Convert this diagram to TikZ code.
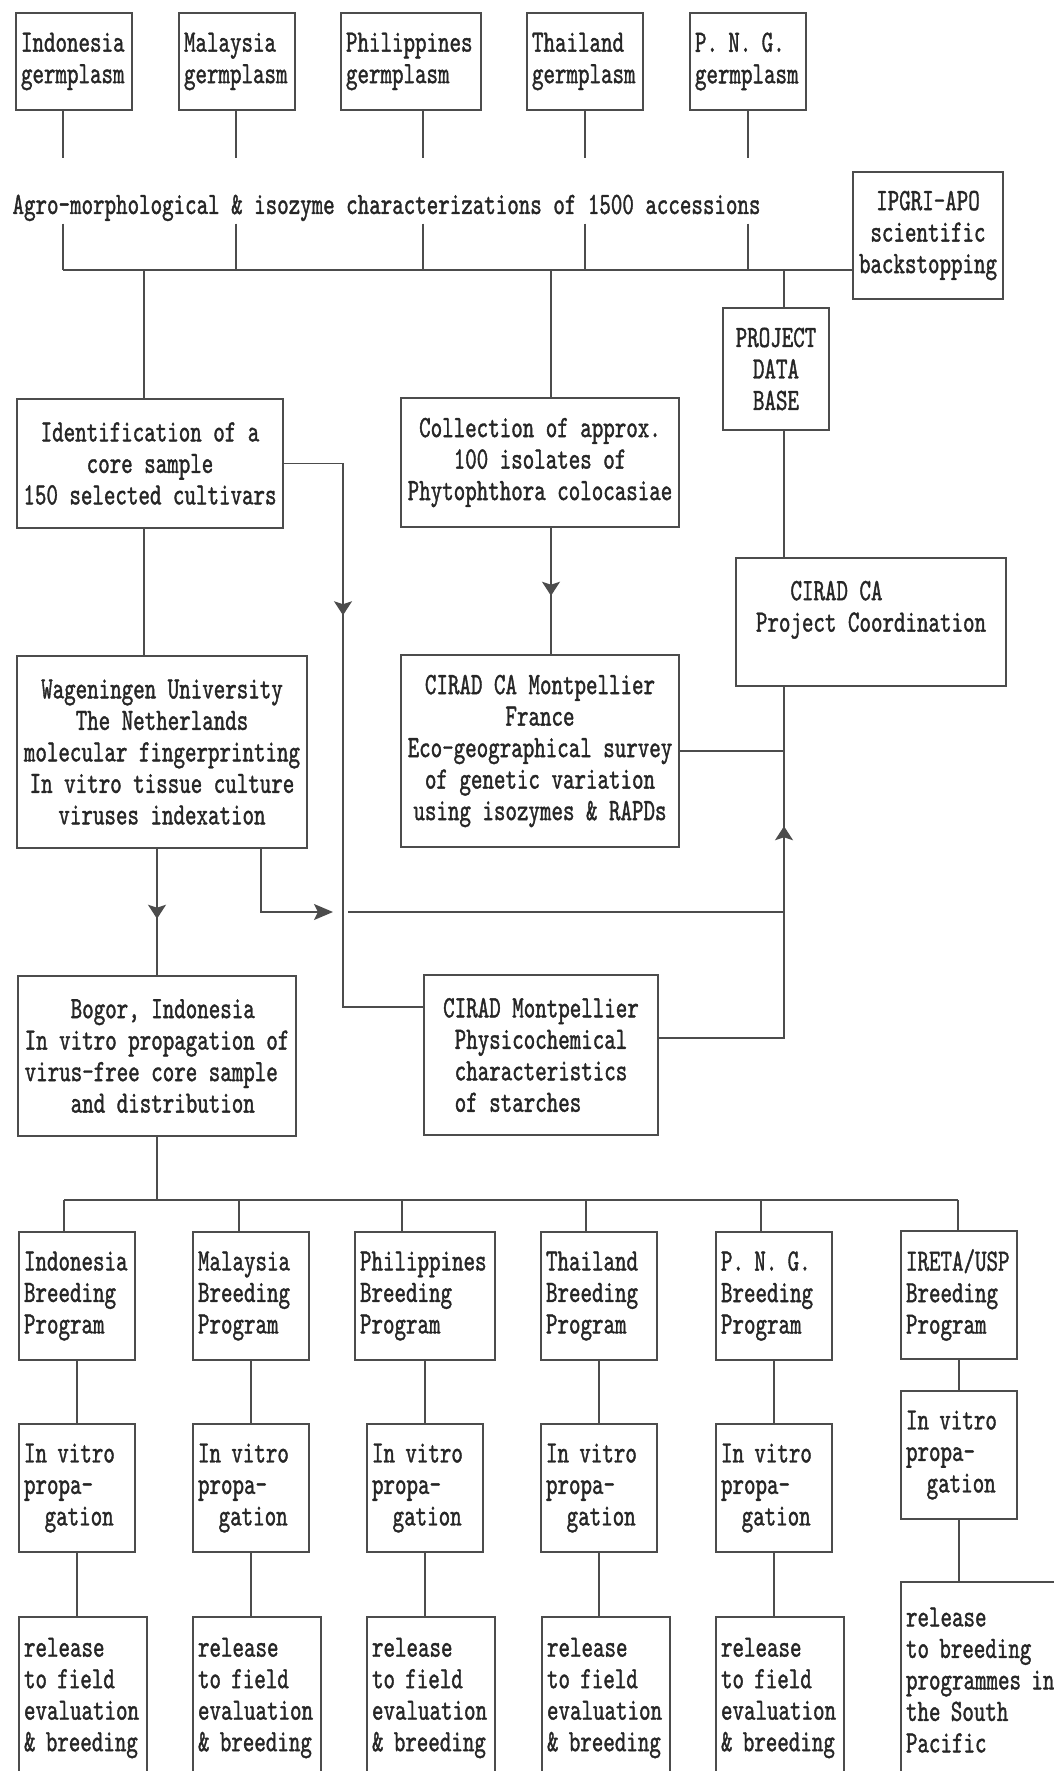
\documentclass[tikz,border=0pt]{standalone}
\usepackage{fontspec}
\newfontfamily\tw[FakeStretch=0.707,FakeBold=1.2]{lmmono10-regular.otf}
\usetikzlibrary{arrows.meta,decorations.markings}

\begin{document}
\begin{tikzpicture}[x=1pt,y=-1pt,line width=1.5pt,color=black!70,
  every node/.style={font=\tw\fontsize{31}{31.5}\selectfont,text=black!85},
  cbox/.style={draw,align=center,inner sep=0pt},
  lbox/.style={draw,align=left,inner xsep=5pt,inner ysep=0pt},
  tipat/.style={postaction={decorate},decoration={markings,
    mark=at position #1 with {\arrow{Stealth[length=14pt,width=18pt,inset=3pt]}}}}]
\useasboundingbox (0,0) rectangle (1054,1771);
\clip (0,0) rectangle (1054,1771);

% germplasm
\node[lbox,text width=106pt,minimum height=97pt] (gIndo) at (74,61.5) {Indonesia\\germplasm};
\node[lbox,text width=106pt,minimum height=97pt] (gMala) at (237,61.5) {Malaysia\\germplasm};
\node[lbox,text width=130pt,minimum height=97pt] (gPhil) at (411,61.5) {Philippines\\germplasm};
\node[lbox,text width=106pt,minimum height=97pt] (gThai) at (585,61.5) {Thailand\\germplasm};
\node[lbox,text width=106pt,minimum height=97pt] (gPng) at (748,61.5) {P. N. G.\\germplasm};

\node[inner xsep=0pt,inner ysep=3pt,text height=20pt,text depth=6pt] (agro) at (386.5,207)
  {Agro-morphological \& isozyme characterizations of 1500 accessions};
\node[cbox,minimum width=150pt,minimum height=127pt] (ipgri) at (928,235.5) {IPGRI-APO\\scientific\\backstopping};
\node[cbox,minimum width=106pt,minimum height=122pt] (dbase) at (776,369) {PROJECT\\DATA\\BASE};

\node[cbox,minimum width=266pt,minimum height=129pt] (ident) at (150,463.5)
  {Identification of a\\core sample\\150 selected cultivars};
\node[cbox,minimum width=278pt,minimum height=129pt] (coll) at (540,462.5)
  {Collection of approx.\\100 isolates of\\Phytophthora colocasiae};
\node[cbox,align=left,minimum width=270pt,minimum height=128pt] (coord) at (871,622)
  {~~~CIRAD CA\\Project Coordination\\~};

\node[cbox,minimum width=290pt,minimum height=192pt] (wag) at (162,752)
  {Wageningen University\\The Netherlands\\molecular fingerprinting\\In vitro tissue culture\\viruses indexation};
\node[cbox,minimum width=278pt,minimum height=192pt] (montA) at (540,751)
  {CIRAD CA Montpellier\\France\\Eco-geographical survey\\of genetic variation\\using isozymes \& RAPDs};

\node[cbox,align=left,minimum width=278pt,minimum height=160pt] (bogor) at (157,1056)
  {~~~~Bogor, Indonesia\\In vitro propagation of\\virus-free core sample\\~~~~and distribution};
\node[cbox,align=left,minimum width=234pt,minimum height=160pt] (montB) at (541,1055)
  {CIRAD Montpellier\\~Physicochemical\\~characteristics\\~of starches};

% breeding programs
\node[lbox,text width=106pt,minimum height=128pt] (bIndo) at (77,1296) {Indonesia\\Breeding\\Program};
\node[lbox,text width=106pt,minimum height=128pt] (bMala) at (251,1296) {Malaysia\\Breeding\\Program};
\node[lbox,text width=130pt,minimum height=128pt] (bPhil) at (425,1296) {Philippines\\Breeding\\Program};
\node[lbox,text width=106pt,minimum height=128pt] (bThai) at (599,1296) {Thailand\\Breeding\\Program};
\node[lbox,text width=106pt,minimum height=128pt] (bPng) at (774,1296) {P. N. G.\\Breeding\\Program};
\node[lbox,text width=106pt,minimum height=128pt] (bIreta) at (959,1295) {IRETA/USP\\Breeding\\Program};

% in vitro
\node[lbox,text width=106pt,minimum height=128pt] (vIndo) at (77,1488) {In vitro\\propa-\\~~gation};
\node[lbox,text width=106pt,minimum height=128pt] (vMala) at (251,1488) {In vitro\\propa-\\~~gation};
\node[lbox,text width=106pt,minimum height=128pt] (vPhil) at (425,1488) {In vitro\\propa-\\~~gation};
\node[lbox,text width=106pt,minimum height=128pt] (vThai) at (599,1488) {In vitro\\propa-\\~~gation};
\node[lbox,text width=106pt,minimum height=128pt] (vPng) at (774,1488) {In vitro\\propa-\\~~gation};
\node[lbox,text width=106pt,minimum height=128pt] (vIreta) at (959,1455) {In vitro\\propa-\\~~gation};

% release
\node[lbox,text width=118pt,minimum height=162pt] (rIndo) at (83,1698) {release\\to field\\evaluation\\\& breeding};
\node[lbox,text width=118pt,minimum height=162pt] (rMala) at (257,1698) {release\\to field\\evaluation\\\& breeding};
\node[lbox,text width=118pt,minimum height=162pt] (rPhil) at (431,1698) {release\\to field\\evaluation\\\& breeding};
\node[lbox,text width=118pt,minimum height=162pt] (rThai) at (606,1698) {release\\to field\\evaluation\\\& breeding};
\node[lbox,text width=118pt,minimum height=162pt] (rPng) at (780,1698) {release\\to field\\evaluation\\\& breeding};
\node[lbox,text width=170pt,minimum height=196pt] (rIreta) at (991,1680)
  {release\\to breeding\\programmes in\\the South\\Pacific};

% top part
\foreach \n/\x in {gIndo/63,gMala/236,gPhil/423,gThai/585,gPng/748}{
  \draw (\n.south -| \x,0) -- (\x,158);
  \draw (agro.south -| \x,0) -- (\x,270);
}
\coordinate (bus) at (63,270);
\draw (bus) -- (bus -| ipgri.west);
\draw (144,270) -- (ident.north -| 144,0);
\draw (551,270) -- (coll.north -| 551,0);
\draw (784,270) -- (dbase.north -| 784,0);
\draw (dbase.south -| 784,0) -- (coord.north -| 784,0);

% middle part
\coordinate (k1) at (343,1007);
\coordinate (k2) at (784,1038);
\draw (ident.south -| 144,0) -- (wag.north -| 144,0);
\draw[tipat=211pt] (ident.east) -| (k1) -- (k1 -| montB.west);
\draw[tipat=68pt] (coll.south -| 551,0) -- (montA.north -| 551,0);
\draw (montA.east) -- (montA.east -| k2);
\draw[tipat=337pt] (k2 -| montB.east) -- (k2) -- (coord.south -| k2);
\draw[tipat=70pt] (wag.south -| 157,0) -- (bogor.north -| 157,0);
\coordinate (h1) at (333,912);
\coordinate (h2) at (348,912);
\draw[-{Stealth[length=19pt,width=16pt,inset=4pt]}] (wag.south -| 261,0) |- (h1);
\draw (h2) -- (h2 -| k2);

% bottom part
\draw (bogor.south) -- (bogor.south |- 0,1200);
\draw (64,1200) -- (958,1200);
\foreach \n/\x in {bIndo/64,bMala/239,bPhil/402,bThai/586,bPng/761,bIreta/958}
  \draw (\x,1200) -- (\n.north -| \x,0);
\foreach \n in {Indo,Mala,Phil,Thai,Png,Ireta}{
  \draw (b\n.south) -- (b\n.south |- v\n.north);
  \draw (v\n.south) -- (v\n.south |- r\n.north);
}
\end{tikzpicture}
\end{document}
